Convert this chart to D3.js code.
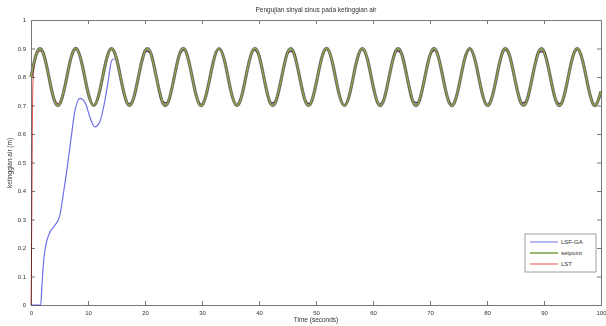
<!DOCTYPE html>
<html>
<head>
<meta charset="utf-8">
<script src="https://cdn.jsdelivr.net/npm/d3@7"></script>
<style>
  body { margin: 0; background: #fff; }
  svg { font-family: "Liberation Sans", Arial, sans-serif; }
  .tick text { font-size: 6px; fill: #333; }
  .mix { mix-blend-mode: multiply; }
</style>
</head>
<body>
<svg id="chart" width="606" height="326"></svg>
<script>
// setpoint sampled every second, t = 0..100
const spTime = d3.range(0, 101);
const spValue = [0.800, 0.884, 0.891, 0.814, 0.724, 0.704, 0.772, 0.866, 0.899, 0.841,
  0.746, 0.700, 0.746, 0.842, 0.899, 0.865, 0.771, 0.704, 0.725, 0.815,
  0.891, 0.884, 0.799, 0.715, 0.709, 0.787, 0.876, 0.896, 0.827, 0.734,
  0.701, 0.760, 0.855, 0.900, 0.853, 0.757, 0.701, 0.736, 0.830, 0.896,
  0.875, 0.784, 0.708, 0.717, 0.802, 0.885, 0.890, 0.812, 0.723, 0.705,
  0.774, 0.867, 0.899, 0.840, 0.744, 0.700, 0.748, 0.844, 0.899, 0.864,
  0.770, 0.703, 0.726, 0.817, 0.892, 0.883, 0.797, 0.714, 0.710, 0.789,
  0.877, 0.895, 0.825, 0.732, 0.701, 0.761, 0.857, 0.900, 0.851, 0.756,
  0.701, 0.737, 0.831, 0.897, 0.873, 0.782, 0.708, 0.718, 0.804, 0.886,
  0.889, 0.811, 0.722, 0.705, 0.775, 0.868, 0.898, 0.838, 0.743, 0.700,
  0.749];

// LSF-GA start-up transient, then tracks the setpoint from t = 16
const gaTime  = [0, 1.7, 1.9, 2.2, 2.6, 3.2, 4.2, 5.0, 5.6, 6.2, 7.0, 7.7, 8.6, 9.5, 10.4, 11.2, 12.0, 12.8, 13.5, 14.2, 15.0];
const gaValue = [0, 0.0, 0.06, 0.15, 0.21, 0.25, 0.28, 0.31, 0.38, 0.46, 0.58, 0.68, 0.725, 0.71, 0.655, 0.625, 0.64, 0.70, 0.78, 0.86, 0.865];

// LST rises almost at once, then tracks the setpoint from t = 1
const lstTime  = [0, 0.1, 0.2, 0.3, 0.5];
const lstValue = [0, 0.2, 0.5, 0.75, 0.83];

const xTicks = d3.range(0, 101, 10);
const yTicks = d3.range(0, 1.01, 0.1);

const sp = spTime.map((t, i) => [t, spValue[i]]);
const ga = gaTime.map((t, i) => [t, gaValue[i]]).concat(sp.filter(d => d[0] >= 16));
const lst = lstTime.map((t, i) => [t, lstValue[i]]).concat(sp.filter(d => d[0] >= 1));

const margin = { top: 20, right: 5, bottom: 21, left: 31 };
const width = 606 - margin.left - margin.right;
const height = 326 - margin.top - margin.bottom;

const svg = d3.select('#chart');
const g = svg.append('g').attr('transform', `translate(${margin.left},${margin.top})`);

const x = d3.scaleLinear().domain([0, 100]).range([0, width]);
const y = d3.scaleLinear().domain([0, 1]).range([height, 0]);

const fmt = d => d3.format('~g')(+d.toFixed(1));

// axes, MATLAB style box with inward ticks
g.append('g').attr('transform', `translate(0,${height})`)
  .call(d3.axisBottom(x).tickValues(xTicks).tickSize(-4).tickPadding(6).tickFormat(fmt));
g.append('g')
  .call(d3.axisTop(x).tickValues(xTicks).tickSize(-4).tickFormat(''));
g.append('g')
  .call(d3.axisLeft(y).tickValues(yTicks).tickSize(-4).tickPadding(5).tickFormat(fmt));
g.append('g').attr('transform', `translate(${width},0)`)
  .call(d3.axisRight(y).tickValues(yTicks).tickSize(-4).tickFormat(''));
g.selectAll('.domain').attr('stroke', '#777');
g.selectAll('.tick line').attr('stroke', '#777');

const line = d3.line().x(d => x(d[0])).y(d => y(d[1])).curve(d3.curveMonotoneX);
const smooth = d3.line().x(d => x(d[0])).y(d => y(d[1])).curve(d3.curveNatural);

g.append('path').datum(ga).attr('class', 'mix')
  .attr('fill', 'none').attr('stroke', '#6f6fe8').attr('stroke-width', 1.2)
  .attr('d', line);
// overlapped tracking portion drawn thicker to give the grey band
g.append('path').datum(sp)
  .attr('fill', 'none').attr('stroke', '#6e6e6e').attr('stroke-width', 3.2)
  .attr('d', smooth);
g.append('path').datum(lst).attr('class', 'mix')
  .attr('fill', 'none').attr('stroke', '#e05050').attr('stroke-width', 1)
  .attr('d', line);
g.append('path').datum(sp)
  .attr('fill', 'none').attr('stroke', '#8fb04a').attr('stroke-width', 1.2)
  .attr('d', smooth);

// labels
svg.append('text').attr('x', 316).attr('y', 12).attr('text-anchor', 'middle')
  .attr('font-size', 6.5).attr('fill', '#333').text('Pengujian sinyal sinus pada ketinggian air');
svg.append('text').attr('x', 316).attr('y', 322).attr('text-anchor', 'middle')
  .attr('font-size', 6.5).attr('fill', '#333').text('Time (seconds)');
svg.append('text').attr('transform', 'translate(12,163) rotate(-90)').attr('text-anchor', 'middle')
  .attr('font-size', 6.5).attr('fill', '#333').text('ketinggian air (m)');

// legend
const legendNames = ['LSF-GA', 'setpoint', 'LST'];
const legendColors = ['#6f6fe8', '#7aa040', '#e05050'];
const lg = svg.append('g').attr('transform', 'translate(525,234)');
lg.append('rect').attr('width', 71).attr('height', 38)
  .attr('fill', '#fff').attr('stroke', '#888').attr('stroke-width', 0.8);
legendNames.forEach((n, i) => {
  const yy = 8 + i * 11;
  lg.append('line').attr('x1', 5).attr('x2', 33).attr('y1', yy).attr('y2', yy)
    .attr('stroke', legendColors[i]).attr('stroke-width', i === 1 ? 1.5 : 1);
  lg.append('text').attr('x', 36).attr('y', yy + 2.2).attr('font-size', 6).attr('fill', '#333').text(n);
});
</script>
</body>
</html>
